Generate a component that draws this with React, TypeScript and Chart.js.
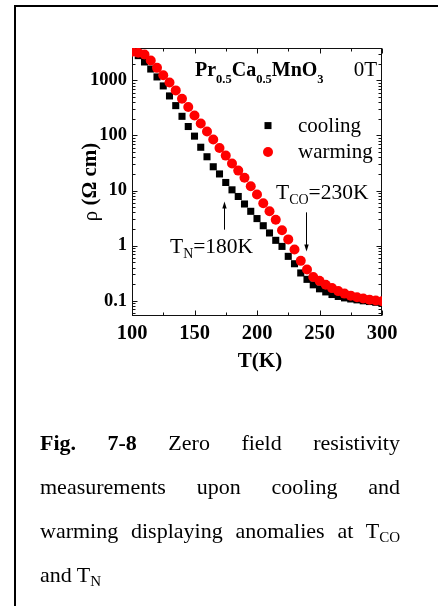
import React, { useEffect, useRef } from 'react';
import { Chart, registerables } from 'chart.js';

Chart.register(...registerables);

const temperatures = [
  100, 105, 110, 115, 120, 125, 130, 135, 140, 145,
  150, 155, 160, 165, 170, 175, 180, 185, 190, 195,
  200, 205, 210, 215, 220, 225, 230, 235, 240, 245,
  250, 255, 260, 265, 270, 275, 280, 285, 290, 295, 300,
];

const coolingRho = [
  3250, 2800, 2150, 1600, 1150, 790, 520, 347, 222, 145,
  97, 61, 41, 27, 20, 14, 10.3, 7.8, 5.7, 4.2,
  3.1, 2.3, 1.7, 1.25, 0.97, 0.64, 0.47, 0.32, 0.245, 0.195,
  0.165, 0.145, 0.13, 0.12, 0.113, 0.108, 0.104, 0.1, 0.097, 0.094, 0.092,
];

const warmingRho = [
  3300, 3150, 2930, 2290, 1680, 1230, 910, 655, 462, 328,
  230, 165, 118, 84, 59, 43, 31, 23, 17, 12,
  8.5, 5.9, 4.2, 2.95, 1.9, 1.3, 0.85, 0.53, 0.37, 0.27,
  0.23, 0.195, 0.17, 0.15, 0.135, 0.124, 0.116, 0.11, 0.105, 0.101, 0.098,
];

const xMajorTicks = [100, 150, 200, 250, 300];
const xMinorTicks = [125, 175, 225, 275];
const yMajorTicks = [0.1, 1, 10, 100, 1000];
const yMinorTicks = [
  0.06, 0.07, 0.08, 0.09,
  0.2, 0.3, 0.4, 0.5, 0.6, 0.7, 0.8, 0.9,
  2, 3, 4, 5, 6, 7, 8, 9,
  20, 30, 40, 50, 60, 70, 80, 90,
  200, 300, 400, 500, 600, 700, 800, 900,
  2000, 3000,
];
const yTickLabels = ['0.1', '1', '10', '100', '1000'];

const X_MIN = 100;
const X_MAX = 300;
const Y_MIN = 0.053;
const Y_MAX = 3850;

const SERIF = '"Liberation Serif", "Times New Roman", Times, serif';

type Seg = { text: string; font: string; dy?: number };

function drawRich(ctx: CanvasRenderingContext2D, x: number, y: number, segs: Seg[], align: 'left' | 'right' = 'left') {
  ctx.save();
  ctx.textAlign = 'left';
  ctx.textBaseline = 'alphabetic';
  let total = 0;
  for (const s of segs) {
    ctx.font = s.font;
    total += ctx.measureText(s.text).width;
  }
  let cx = align === 'right' ? x - total : x;
  for (const s of segs) {
    ctx.font = s.font;
    ctx.fillText(s.text, cx, y + (s.dy || 0));
    cx += ctx.measureText(s.text).width;
  }
  ctx.restore();
}

const decorPlugin = {
  id: 'decor',
  beforeDatasetsDraw(chart: any) {
    const { ctx, chartArea } = chart;
    const xs = chart.scales.x;
    const ys = chart.scales.y;
    const L = Math.round(chartArea.left) + 0.5;
    const R = Math.round(chartArea.right) - 0.5;
    const T = Math.round(chartArea.top) + 0.5;
    const B = Math.round(chartArea.bottom) - 0.5;
    ctx.save();
    ctx.strokeStyle = '#111';
    ctx.lineWidth = 1;
    ctx.strokeRect(L, T, R - L, B - T);
    ctx.beginPath();
    const xt = (v: number, len: number) => {
      const p = Math.round(xs.getPixelForValue(v)) + 0.5;
      ctx.moveTo(p, B); ctx.lineTo(p, B - len);
      ctx.moveTo(p, T); ctx.lineTo(p, T + len);
    };
    const yt = (v: number, len: number) => {
      const p = Math.round(ys.getPixelForValue(v)) + 0.5;
      ctx.moveTo(L, p); ctx.lineTo(L + len, p);
      ctx.moveTo(R, p); ctx.lineTo(R - len, p);
    };
    xMajorTicks.forEach((v) => xt(v, 5));
    xMinorTicks.forEach((v) => xt(v, 3));
    yMajorTicks.forEach((v) => yt(v, 5));
    yMinorTicks.forEach((v) => yt(v, 3));
    ctx.stroke();
    ctx.restore();
  },
  afterDraw(chart: any) {
    const { ctx, chartArea } = chart;
    const xs = chart.scales.x;
    const ys = chart.scales.y;
    const px = (t: number) => xs.getPixelForValue(t);
    const py = (r: number) => ys.getPixelForValue(r);
    ctx.save();
    ctx.fillStyle = '#000';
    ctx.strokeStyle = '#000';

    // compound label
    const big = `bold 20px ${SERIF}`;
    const sub = `bold 12.5px ${SERIF}`;
    drawRich(ctx, px(150.4), py(1183), [
      { text: 'Pr', font: big },
      { text: '0.5', font: sub, dy: 7 },
      { text: 'Ca', font: big },
      { text: '0.5', font: sub, dy: 7 },
      { text: 'MnO', font: big },
      { text: '3', font: sub, dy: 7 },
    ]);
    drawRich(ctx, px(296), py(1183), [{ text: '0T', font: `21px ${SERIF}` }], 'right');

    // legend
    const lx = px(208.8);
    const ly1 = py(150.7);
    const ly2 = py(50);
    ctx.fillStyle = '#000';
    ctx.fillRect(lx - 3.5, ly1 - 3.5, 7, 7);
    ctx.fillStyle = '#ff0000';
    ctx.beginPath();
    ctx.arc(lx, ly2, 5, 0, Math.PI * 2);
    ctx.fill();
    ctx.fillStyle = '#000';
    const reg = `21px ${SERIF}`;
    drawRich(ctx, px(232.8), ly1 + 6, [{ text: 'cooling', font: reg }]);
    drawRich(ctx, px(232.8), ly2 + 6, [{ text: 'warming', font: reg }]);

    // annotations
    const ann = `21.5px ${SERIF}`;
    const annSub = `14px ${SERIF}`;
    drawRich(ctx, px(215.2), py(7.03), [
      { text: 'T', font: ann },
      { text: 'CO', font: annSub, dy: 5 },
      { text: '=230K', font: ann },
    ]);
    drawRich(ctx, px(130.4), py(0.734), [
      { text: 'T', font: ann },
      { text: 'N', font: annSub, dy: 5 },
      { text: '=180K', font: ann },
    ]);

    const arrow = (x: number, y0: number, y1: number) => {
      const xx = Math.round(x) + 0.5;
      const dir = y1 > y0 ? 1 : -1;
      ctx.beginPath();
      ctx.lineWidth = 1;
      ctx.moveTo(xx, y0);
      ctx.lineTo(xx, y1 - dir * 5);
      ctx.stroke();
      ctx.beginPath();
      ctx.moveTo(xx, y1);
      ctx.lineTo(xx - 2.2, y1 - dir * 7);
      ctx.lineTo(xx + 2.2, y1 - dir * 7);
      ctx.closePath();
      ctx.fill();
    };
    arrow(px(239.2), py(4.02), py(0.785));
    arrow(px(173.8), py(1.95), py(6.35));

    // axis titles
    ctx.font = `bold 21px ${SERIF}`;
    ctx.textAlign = 'center';
    ctx.textBaseline = 'alphabetic';
    ctx.fillText('T(K)', (chartArea.left + chartArea.right) / 2 + 3, chartArea.bottom + 51);

    ctx.save();
    ctx.translate(91, (chartArea.top + chartArea.bottom) / 2);
    ctx.rotate(-Math.PI / 2);
    ctx.textBaseline = 'middle';
    ctx.textAlign = 'left';
    const f1 = `21px ${SERIF}`;
    const f2 = `bold 21px ${SERIF}`;
    ctx.font = f1;
    const w1 = ctx.measureText('\u03C1').width;
    ctx.font = f2;
    const t2 = ' (\u03A9 cm)';
    const w2 = ctx.measureText(t2).width;
    let sx = -(w1 + w2) / 2;
    ctx.font = f1;
    ctx.fillText('\u03C1', sx, 0);
    sx += w1;
    ctx.font = f2;
    ctx.fillText(t2, sx, 0);
    ctx.restore();

    ctx.restore();
  },
};

export default function App() {
  const ref = useRef<HTMLCanvasElement | null>(null);

  useEffect(() => {
    const canvas = ref.current;
    if (!canvas) return;
    const chart = new Chart(canvas, {
      type: 'scatter',
      data: {
        datasets: [
          {
            label: 'cooling',
            data: temperatures.map((t, i) => ({ x: t, y: coolingRho[i] })),
            pointStyle: 'rect',
            pointRadius: 5,
            pointHoverRadius: 5,
            backgroundColor: '#000000',
            borderColor: '#000000',
            borderWidth: 0,
            showLine: false,
            order: 1,
          },
          {
            label: 'warming',
            data: temperatures.map((t, i) => ({ x: t, y: warmingRho[i] })),
            pointStyle: 'circle',
            pointRadius: 5,
            pointHoverRadius: 5,
            backgroundColor: '#ff0000',
            borderColor: '#ff0000',
            borderWidth: 0,
            showLine: false,
            order: 0,
          },
        ],
      },
      options: {
        responsive: false,
        animation: false,
        devicePixelRatio: 1,
        events: [],
        layout: { padding: { left: 72, right: 56, top: 48, bottom: 54 } },
        plugins: {
          legend: { display: false },
          tooltip: { enabled: false },
        },
        scales: {
          x: {
            type: 'linear',
            min: X_MIN,
            max: X_MAX,
            afterBuildTicks: (s: any) => {
              s.ticks = xMajorTicks.map((v) => ({ value: v }));
            },
            afterFit: (s: any) => {
              s.height = 30;
            },
            grid: { display: false, drawTicks: false },
            border: { display: false },
            ticks: {
              autoSkip: false,
              maxRotation: 0,
              padding: 5,
              color: '#000',
              font: { family: SERIF, size: 20.5, weight: 'bold' },
              callback: (v: any) => String(v),
            },
          },
          y: {
            type: 'logarithmic',
            min: Y_MIN,
            max: Y_MAX,
            afterBuildTicks: (s: any) => {
              s.ticks = yMajorTicks.map((v) => ({ value: v }));
            },
            afterFit: (s: any) => {
              s.width = 60;
            },
            grid: { display: false, drawTicks: false },
            border: { display: false },
            ticks: {
              autoSkip: false,
              padding: 5,
              color: '#000',
              font: { family: SERIF, size: 18.5, weight: 'bold' },
              callback: (v: any) => {
                const i = yMajorTicks.indexOf(Number(v));
                return i >= 0 ? yTickLabels[i] : '';
              },
            },
          },
        },
      },
      plugins: [decorPlugin],
    } as any);
    return () => chart.destroy();
  }, []);

  return (
    <>
      <div
        style={{
          position: 'fixed',
          left: 14,
          top: 5,
          right: 0,
          bottom: 0,
          borderLeft: '2px solid #000',
          borderTop: '2px solid #000',
          boxSizing: 'border-box',
        }}
      />
      <canvas
        ref={ref}
        width={438}
        height={400}
        style={{ position: 'fixed', left: 0, top: 0, width: 438, height: 400 }}
      />
      <div
        style={{
          position: 'fixed',
          left: 40,
          top: 421,
          width: 360,
          fontFamily: SERIF,
          fontSize: 22,
          lineHeight: '44px',
          textAlign: 'justify',
          color: '#000',
        }}
      >
        <b>Fig. 7-8</b> Zero field resistivity measurements upon cooling and warming displaying anomalies at T
        <sub style={{ fontSize: 15, verticalAlign: '-4px', lineHeight: 0 }}>CO</sub> and T
        <sub style={{ fontSize: 15, verticalAlign: '-4px', lineHeight: 0 }}>N</sub>
      </div>
    </>
  );
}
